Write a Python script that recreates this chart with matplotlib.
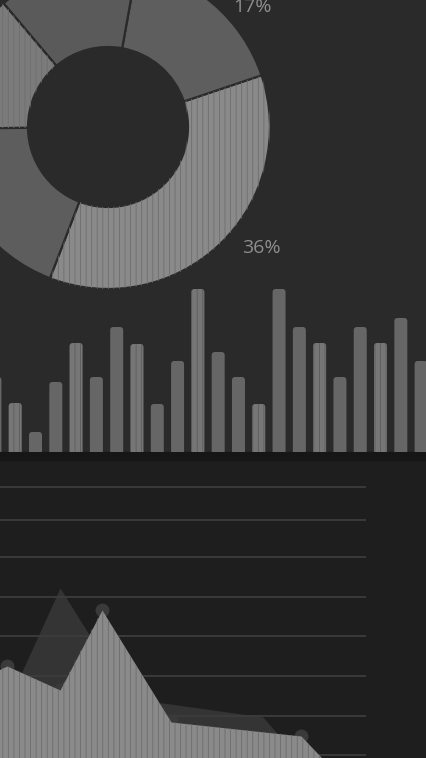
import numpy as np
import matplotlib.pyplot as plt
from matplotlib.patches import Rectangle, Wedge, FancyBboxPatch

plt.rcParams['hatch.linewidth'] = 0.6

# --- data ---
pie_values = [36, 17, 14, 14, 19]
pie_labels = ["36%", "17%"]

bar_values = [75, 49, 20, 70, 109, 75, 125, 108, 48, 91, 163, 100,
              75, 48, 163, 125, 109, 75, 125, 109, 134, 91]

front_x = [-10, 7, 60, 102, 171, 301, 360]
front_y = [84, 92, 68, 148, 36, 22, -40]
back_x = [0, 60, 130, 163, 263, 300]
back_y = [38, 170, 58, 55, 41, -2]
grid_levels = [3, 42, 82, 122, 161, 201, 238, 271]

W, H = 426, 758
fig = plt.figure(figsize=(W / 100, H / 100), dpi=100)
fig.patch.set_facecolor('#1e1e1e')
# upper chalkboard panel + dark strip
fig.patches.append(Rectangle((0, (H - 452) / H), 1, 452 / H, transform=fig.transFigure,
                             color='#2a2a2a', zorder=-10))
fig.patches.append(Rectangle((0, (H - 460) / H), 1, 8 / H, transform=fig.transFigure,
                             color='#161616', zorder=-9))

# --- donut ---
cx, cy, half = 108, 127, 175
axp = fig.add_axes([(cx - half) / W, (H - cy - half) / H, 2 * half / W, 2 * half / H])
axp.set_axis_off()
pie_colors = ['#8a8a8a', '#5e5e5e', '#5a5a5a', '#7b7b7b', '#5d5d5d']
pie_hatch = ['|||', '', '', '|||', '']
wedges, _ = axp.pie(pie_values, radius=162, startangle=-111, counterclock=True,
                    colors=pie_colors,
                    wedgeprops=dict(width=82, edgecolor='#2a2a2a', linewidth=1.6))
for w, h in zip(wedges, pie_hatch):
    if h:
        axp.add_patch(Wedge(w.center, w.r, w.theta1, w.theta2, width=w.width,
                            facecolor='none', edgecolor='#6e6e6e', linewidth=0, hatch=h))
axp.set_xlim(-half, half)
axp.set_ylim(-half, half)
axp.set_aspect('equal')
axp.text(153, -121, pie_labels[0], color='#8e8e8e', fontsize=14, ha='center', va='center',
         family='Open Sans', clip_on=False)
axp.text(144, 120, pie_labels[1], color='#8e8e8e', fontsize=14, ha='center', va='center',
         family='Open Sans', clip_on=False)

# --- bars (rounded tops) ---
axb = fig.add_axes([0, (H - 452) / H, 1, 172 / H])
axb.set_axis_off()
x = np.arange(len(bar_values))
bar_colors = ['#767676' if i % 3 == 1 else '#666666' for i in x]
bars = axb.bar(x, bar_values, width=0.64, color=bar_colors, linewidth=0)
axb.set_xlim(0.25, 21.24)
axb.set_ylim(0, 172)
px_per_x = W / (21.24 - 0.25)
for i, b in enumerate(bars):
    bx, bw, bh = b.get_x(), b.get_width(), b.get_height()
    b.set_visible(False)
    for fc, ec, hatch in [(bar_colors[i], 'none', None),
                          ('none', '#5c5c5c', '|||' if i % 3 == 1 else None)]:
        if fc == 'none' and hatch is None:
            continue
        axb.add_patch(FancyBboxPatch((bx, -10), bw, bh + 10,
                                     boxstyle='round,pad=0,rounding_size=0.16',
                                     mutation_aspect=px_per_x, facecolor=fc,
                                     edgecolor=ec, linewidth=0, hatch=hatch))

# --- area chart ---
axa = fig.add_axes([0, 0, 1, 298 / H])
axa.set_axis_off()
axa.fill_between(back_x, back_y, -10, color='#343434', linewidth=0, zorder=1)
axa.hlines(grid_levels, 0, 366, color='#3c3c3c', linewidth=1.3, zorder=2)
axa.plot(front_x[1:-1], front_y[1:-1], 'o', color='#3a3a3a', markersize=9, zorder=3)
axa.fill_between(front_x, front_y, -10, color='#8a8a8a', linewidth=0, zorder=4)
axa.fill_between(front_x, front_y, -10, facecolor='none', edgecolor='#6c6c6c',
                 hatch='|||', linewidth=0, zorder=5)
axa.set_xlim(0, W)
axa.set_ylim(0, 298)

fig.savefig('out.png', dpi=100, facecolor=fig.get_facecolor())
